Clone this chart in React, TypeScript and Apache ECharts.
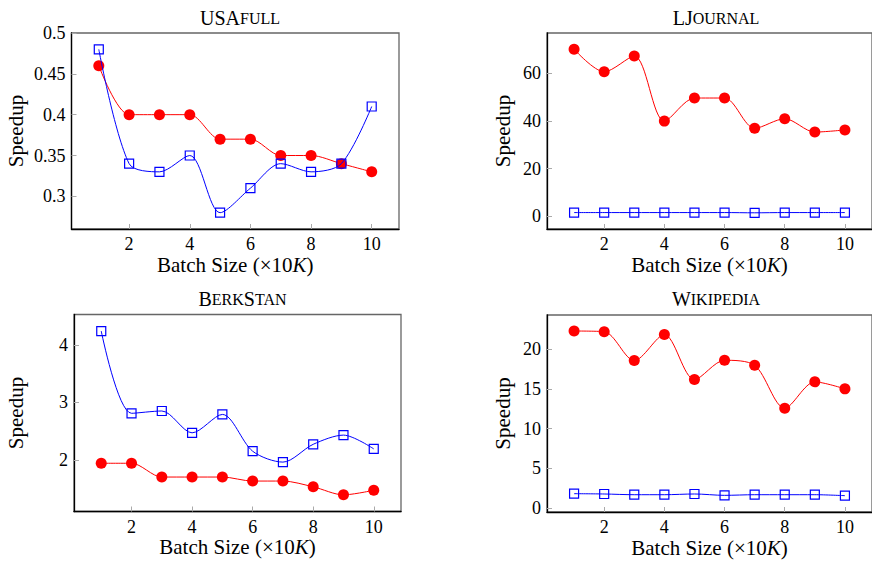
import React, { useEffect, useRef } from "react";
import * as echarts from "echarts";

const batchSizes = [1, 2, 3, 4, 5, 6, 7, 8, 9, 10];
const xTicks = [2, 4, 6, 8, 10];

const usaRed = [0.46, 0.4, 0.4, 0.4, 0.37, 0.37, 0.35, 0.35, 0.34, 0.33];
const usaBlue = [0.48, 0.34, 0.33, 0.35, 0.28, 0.31, 0.34, 0.33, 0.34, 0.41];
const usaTicks = [0.3, 0.35, 0.4, 0.45, 0.5];

const ljRed = [70.2, 60.7, 67.3, 40.0, 49.7, 49.7, 37.0, 41.0, 35.4, 36.3];
const ljBlue = [1.6, 1.6, 1.6, 1.6, 1.6, 1.6, 1.5, 1.6, 1.6, 1.6];
const ljTicks = [0, 20, 40, 60];

const bsRed = [1.94, 1.94, 1.7, 1.7, 1.7, 1.63, 1.63, 1.53, 1.39, 1.47];
const bsBlue = [4.24, 2.81, 2.85, 2.47, 2.79, 2.15, 1.96, 2.27, 2.43, 2.19];
const bsTicks = [2, 3, 4];

const wkRed = [22.25, 22.17, 18.54, 21.8, 16.16, 18.58, 17.95, 12.57, 15.87, 14.99];
const wkBlue = [1.84, 1.8, 1.71, 1.71, 1.8, 1.63, 1.71, 1.71, 1.71, 1.59];
const wkTicks = [0, 5, 10, 15, 20];

const FONT = "Liberation Serif";

const panels = [
  { title: "{a|USA}{b|FULL}", red: usaRed, blue: usaBlue, ticks: usaTicks, min: 0.26, max: 0.5,
    grid: { left: 71.5, top: 33, width: 327.5, height: 196 }, tx: 235, ty: 3, ng: 45.5 },
  { title: "{a|LJ}{b|OURNAL}", red: ljRed, blue: ljBlue, ticks: ljTicks, min: -5.3, max: 77,
    grid: { left: 547, top: 33, width: 328, height: 196 }, tx: 711, ty: 3, ng: 34 },
  { title: "{a|B}{b|ERK}{a|S}{b|TAN}", red: bsRed, blue: bsBlue, ticks: bsTicks, min: 1.1, max: 4.53,
    grid: { left: 74, top: 314.5, width: 327, height: 197 }, tx: 237.5, ty: 284, ng: 48 },
  { title: "{a|W}{b|IKIPEDIA}", red: wkRed, blue: wkBlue, ticks: wkTicks, min: -0.46, max: 24.26,
    grid: { left: 547, top: 315, width: 328, height: 197 }, tx: 711, ty: 284, ng: 34 },
];

export default function App() {
  const ref = useRef<HTMLDivElement>(null);
  useEffect(() => {
    if (!ref.current) return;
    const chart = echarts.init(ref.current, null, { renderer: "svg" });
    const toPairs = (ys: number[]) => batchSizes.map((x, i) => [x, ys[i]]);
    const option: any = {
      animation: false,
      backgroundColor: "#ffffff",
      textStyle: { fontFamily: FONT },
      title: panels.map((p) => ({
        text: p.title,
        left: p.tx,
        top: p.ty,
        textAlign: "center",
        textStyle: {
          fontFamily: FONT,
          fontWeight: "normal",
          color: "#000",
          rich: {
            a: { fontSize: 20, fontFamily: FONT, color: "#000" },
            b: { fontSize: 16, fontFamily: FONT, color: "#000" },
          },
        },
      })),
      grid: panels.map((p) => ({
        ...p.grid,
        show: true,
        borderColor: "#666",
        borderWidth: 1.3,
        backgroundColor: "transparent",
        containLabel: false,
      })),
      xAxis: panels.map((p, i) => ({
        type: "value",
        gridIndex: i,
        min: 0.1,
        max: 10.9,
        name: "Batch Size (×10{k|K})",
        nameLocation: "middle",
        nameGap: 25,
        nameTextStyle: {
          fontFamily: FONT,
          fontSize: 21,
          color: "#000",
          rich: { k: { fontFamily: FONT, fontSize: 21, fontStyle: "italic", color: "#000" } },
        },
        axisLine: { show: true, onZero: false, lineStyle: { color: "#000", width: 1.3 } },
        axisTick: { show: true, inside: true, length: 5, lineStyle: { color: "#aaa" }, customValues: xTicks },
        axisLabel: { fontFamily: FONT, fontSize: 18, color: "#000", margin: 6, customValues: xTicks },
        splitLine: { show: false },
      })),
      yAxis: panels.map((p, i) => ({
        type: "value",
        gridIndex: i,
        min: p.min,
        max: p.max,
        name: "Speedup",
        nameLocation: "middle",
        nameGap: p.ng,
        nameTextStyle: { fontFamily: FONT, fontSize: 21, color: "#000" },
        axisLine: { show: true, onZero: false, lineStyle: { color: "#000", width: 1.3 } },
        axisTick: { show: true, inside: true, length: 5, lineStyle: { color: "#aaa" }, customValues: p.ticks },
        axisLabel: { fontFamily: FONT, fontSize: 18, color: "#000", margin: 6, customValues: p.ticks },
        splitLine: { show: false },
      })),
      series: panels.flatMap((p, i) => [
        {
          type: "line",
          xAxisIndex: i,
          yAxisIndex: i,
          data: toPairs(p.red),
          smooth: 0.3,
          symbol: "circle",
          symbolSize: 11,
          lineStyle: { color: "#ff0000", width: 1 },
          itemStyle: { color: "#ff0000" },
          z: 3,
        },
        {
          type: "line",
          xAxisIndex: i,
          yAxisIndex: i,
          data: toPairs(p.blue),
          smooth: 0.3,
          symbol: "rect",
          symbolSize: 9,
          lineStyle: { color: "#0000ff", width: 1 },
          itemStyle: { color: "rgba(0,0,0,0)", borderColor: "#0000ff", borderWidth: 1.2 },
          z: 4,
        },
      ]),
    };
    chart.setOption(option);
    return () => chart.dispose();
  }, []);
  return (
    <div
      ref={ref}
      style={{ position: "fixed", left: 0, top: 0, width: 872, height: 564 }}
    />
  );
}
